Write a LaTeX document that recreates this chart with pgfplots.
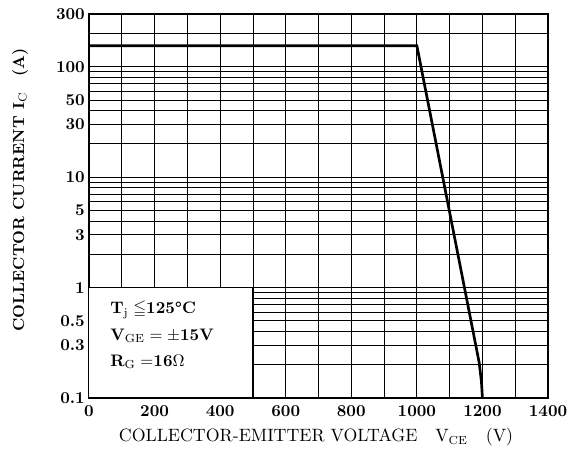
\documentclass[border=0pt]{standalone}
\usepackage{pgfplots}
\usepackage{amssymb}
\pgfplotsset{compat=1.18}
\begin{document}
\begin{tikzpicture}
\begin{axis}[
  at={(0pt,0pt)}, anchor=south west,
  scale only axis, width=275.4pt, height=230.4pt,
  xmin=0, xmax=1400, ymode=log, ymin=0.1, ymax=300,
  xtick={0,200,...,1400}, minor xtick={100,300,...,1300},
  xticklabels={0,200,400,600,800,1000,1200,1400},
  ytick={0.1,0.3,0.5,1,3,5,10,30,50,100,300},
  yticklabels={0.1,0.3,0.5,1,3,5,10,30,50,100,300},
  minor ytick={0.2,0.4,0.6,0.7,0.8,0.9,2,4,6,7,8,9,20,40,60,70,80,90,200},
  grid=both,
  major grid style={black, line width=0.5pt},
  minor grid style={black, line width=0.5pt},
  axis line style={line width=1.2pt},
  tick style={draw=none},
  ticklabel style={font=\bfseries},
  xticklabel style={yshift=-1pt},
  yticklabel style={xshift=1pt},
  clip=false,
]
\addplot[black, line width=1.6pt] coordinates {
  (0,155) (1000,155) (1190,0.21) (1197,0.14) (1200,0.1)
};
\fill[white] (axis cs:0,0.1) rectangle (axis cs:500,1);
\draw[black, line width=0.6pt] (axis cs:0,0.1) rectangle (axis cs:500,1);
\end{axis}
\node[anchor=west, inner sep=0pt, font=\bfseries] at (12.6pt,52.8pt) {T$_{\mathrm j}\leqq$125\textdegree C};
\node[anchor=west, inner sep=0pt, font=\bfseries] at (12.6pt,37.2pt) {V$_{\mathrm{GE}}=\pm$15V};
\node[anchor=west, inner sep=0pt, font=\bfseries] at (12.6pt,21.6pt) {R$_{\mathrm G}=$16$\Omega$};
\node[rotate=90, font=\fontsize{9.6}{11}\selectfont\bfseries] at (-41.4pt,124.8pt) {COLLECTOR CURRENT I$_{\mathrm C}$\quad(A)};
\node[font=\fontsize{10.7}{12}\selectfont] at (136.2pt,-23.4pt) {COLLECTOR-EMITTER VOLTAGE\quad V$_{\mathrm{CE}}$\quad (V)};
\pgfresetboundingbox
\useasboundingbox (-53.4pt,-38.4pt) rectangle (291.6pt,238.8pt);
\end{tikzpicture}
\end{document}
